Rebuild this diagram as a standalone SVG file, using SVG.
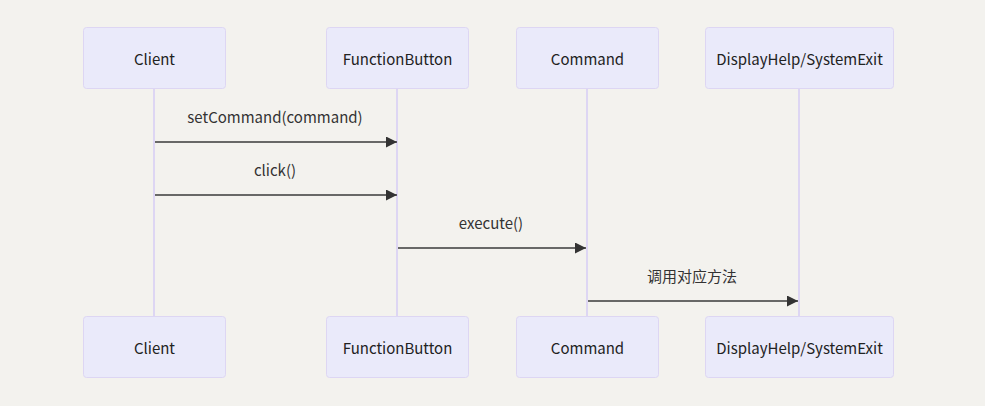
<svg xmlns="http://www.w3.org/2000/svg" width="985" height="406" viewBox="0 0 985 406">
<style>
.bg{fill:#f3f2ee}
.actor{fill:#eaeafa;stroke:#ddd6f3;stroke-width:1}
.life{stroke:#ddd6f3;stroke-width:2}
.t{font-family:"Noto Sans CJK SC",sans-serif;font-size:15px;fill:#222;text-anchor:middle;dominant-baseline:central}
.msg{stroke:#3a3a3a;stroke-width:1.6;fill:none}
.lbl{font-family:"Noto Sans CJK SC",sans-serif;font-size:15px;fill:#333;text-anchor:middle;dominant-baseline:central}
</style>
<defs>
<marker id="ah" viewBox="0 0 10 10" refX="10" refY="5" markerWidth="11" markerHeight="11" markerUnits="userSpaceOnUse" orient="auto">
<path d="M0,0 L10,5 L0,10 z" fill="#333"/>
</marker>
</defs>
<rect class="bg" x="0" y="0" width="985" height="406"/>
<g id="lifelines">
<line class="life" x1="154" y1="89" x2="154" y2="316"/>
<line class="life" x1="397" y1="89" x2="397" y2="316"/>
<line class="life" x1="587" y1="89" x2="587" y2="316"/>
<line class="life" x1="799" y1="89" x2="799" y2="316"/>
</g>
<g id="client">
<rect class="actor" x="83.5" y="27.5" width="142" height="61" rx="3"/>
<text class="t" x="154.5" y="58.5">Client</text>
<rect class="actor" x="83.5" y="316.5" width="142" height="61" rx="3"/>
<text class="t" x="154.5" y="347.5">Client</text>
</g>
<g id="functionbutton">
<rect class="actor" x="326.5" y="27.5" width="142" height="61" rx="3"/>
<text class="t" x="397.5" y="58.5">FunctionButton</text>
<rect class="actor" x="326.5" y="316.5" width="142" height="61" rx="3"/>
<text class="t" x="397.5" y="347.5">FunctionButton</text>
</g>
<g id="command">
<rect class="actor" x="516.5" y="27.5" width="142" height="61" rx="3"/>
<text class="t" x="587.5" y="58.5">Command</text>
<rect class="actor" x="516.5" y="316.5" width="142" height="61" rx="3"/>
<text class="t" x="587.5" y="347.5">Command</text>
</g>
<g id="displayhelp">
<rect class="actor" x="705.5" y="27.5" width="188" height="61" rx="3"/>
<text class="t" x="799.5" y="58.5">DisplayHelp/SystemExit</text>
<rect class="actor" x="705.5" y="316.5" width="188" height="61" rx="3"/>
<text class="t" x="799.5" y="347.5">DisplayHelp/SystemExit</text>
</g>
<g id="connectors">
<line class="msg" x1="155" y1="142" x2="397" y2="142" marker-end="url(#ah)"/>
<text class="lbl" x="275" y="116.5">setCommand(command)</text>
<line class="msg" x1="155" y1="195" x2="397" y2="195" marker-end="url(#ah)"/>
<text class="lbl" x="275" y="169.5">click()</text>
<line class="msg" x1="398" y1="248" x2="586" y2="248" marker-end="url(#ah)"/>
<text class="lbl" x="491" y="222.5">execute()</text>
<line class="msg" x1="588" y1="301" x2="798" y2="301" marker-end="url(#ah)"/>
<text class="lbl" x="692" y="275.5">调用对应方法</text>
</g>
</svg>
